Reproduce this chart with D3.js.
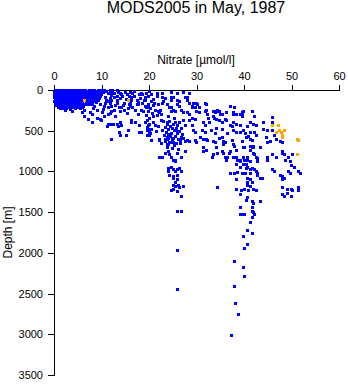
<!DOCTYPE html>
<html>
<head>
<meta charset="utf-8">
<script src="https://cdn.jsdelivr.net/npm/d3@7"></script>
<style>
  body { margin: 0; background: #fff; }
  svg text { font-family: "Liberation Sans", Arial, Helvetica, sans-serif; fill: #000; }
</style>
</head>
<body>
<svg id="chart" width="348" height="384"></svg>
<script>
// Axis ticks
const nitrateTicks = [0, 10, 20, 30, 40, 50, 60];
const depthTicks = [0, 500, 1000, 1500, 2000, 2500, 3000, 3500];

// Bottle samples: [nitrate (µmol/l), depth (m)]
const surfaceSamples = [
  [0.3,8],[0.9,10],[1.6,6],[2.2,9],[2.9,7],[3.5,11],[4.1,8],[4.8,5],[5.4,10],[6.1,7],[6.7,9],[7.4,6],[8.0,11],[8.6,8],[9.3,5],[9.9,9],[10.6,7],[11.8,12],
  [0.6,19],[1.3,17],[1.9,21],[2.6,18],[3.2,16],[3.8,20],[4.4,19],[5.1,17],[5.7,22],[6.4,18],[7.0,16],[7.7,21],[8.3,19],[9.0,17],[9.6,22],[10.3,18],[11.1,20],
  [0.1,30],[0.7,33],[1.3,28],[2.0,31],[2.6,35],[3.3,29],[3.9,32],[4.5,27],[5.2,34],[5.8,30],[6.5,26],[7.1,33],[7.8,31],[8.4,28],[9.0,35],[9.7,30],[10.4,33],
  [0.3,44],[1.0,42],[1.6,46],[2.3,41],[2.9,45],[3.6,43],[4.2,47],[4.8,42],[5.5,44],[6.1,46],[6.8,41],[7.4,45],[8.1,43],[8.7,47],[9.3,42],[10.0,45],
  [0.4,55],[1.0,58],[1.7,52],[2.3,57],[3.0,54],[3.6,60],[4.3,53],[4.9,56],[5.5,59],[6.2,51],[6.8,57],[7.5,55],[8.1,60],[8.8,53],[9.4,58],[10.1,55],
  [0.1,68],[0.7,70],[1.4,66],[2.0,69],[2.7,71],[3.3,67],[3.9,70],[4.6,65],[5.2,69],[5.9,72],[6.5,67],[7.1,70],[7.8,66],[8.4,71],[9.1,68],[9.7,70],
  [0.2,80],[0.8,83],[1.5,78],[2.1,85],[2.8,81],[3.4,77],[4.0,84],[4.7,80],[5.3,86],[6.0,79],[6.6,82],[7.2,77],[7.9,85],[8.5,81],[9.2,79],[9.8,84],
  [0.2,93],[0.8,95],[1.4,91],[2.1,94],[2.7,96],[3.4,92],[4.0,95],[4.7,90],[5.3,94],[6.0,97],[6.6,92],[7.3,95],[7.9,91],[8.6,96],[9.2,93],
  [0.5,105],[1.1,108],[1.8,102],[2.4,107],[3.1,104],[3.7,110],[4.4,103],[5.0,106],[5.7,109],[6.3,101],[7.0,107],[7.6,104],[8.3,110],[8.9,103],[9.6,106],
  [0.6,118],[1.2,120],[1.9,116],[2.5,119],[3.2,121],[3.8,117],[4.5,120],[5.1,115],[5.8,119],[6.7,122],[7.7,117],[8.9,120],
  [0.3,130],[0.9,133],[1.6,128],[2.2,135],[2.9,131],[3.5,127],[4.2,134],[4.8,130],[5.5,136],[6.1,129],[7.3,132],[8.0,127],[8.6,135],[9.3,130],
  [0.1,143],[0.8,145],[1.4,141],[2.1,144],[2.7,146],[3.4,142],[4.0,145],[4.7,140],[5.3,144],[6.0,147],[7.0,142],[8.3,145],
  [0.6,155],[1.2,158],[1.9,152],[2.5,157],[3.2,154],[3.8,160],[4.5,153],[5.1,156],[5.8,159],[6.8,152],[7.7,157],[8.9,154],
  [0.3,168],[0.9,170],[1.6,166],[2.2,169],[2.9,171],[3.5,167],[4.2,170],[4.8,165],[5.5,169],[6.4,172],
  [0.4,180],[1.0,183],[1.7,178],[2.3,185],[3.0,181],[3.6,177],[4.3,184],[5.0,180],[5.9,186],[7.1,179],[8.2,182],
  [0.6,193],[1.3,195],[1.9,191],[2.6,194],[3.2,196],[3.9,192],[4.6,195],[5.4,190],
  [0.9,205],[1.6,208],[2.2,202],[2.9,207],[3.5,204],[4.2,210],[4.9,203],[6.3,206],
  [1.0,218],[1.7,220],[2.3,216],[3.0,219],[3.7,221],[4.3,217],[5.1,220],
  [1.3,230],[2.0,233],[2.7,228],[3.4,235],[4.6,231],[5.5,227],
  [2.4,255],[3.8,258]
];

const upperSamples = [
  [12.4,12],[13.3,12],[13.3,74],[14.3,61],[15.4,61],[16.4,98],[17.5,123],[18.1,61],[19.2,98],
  [12.2,135],[13.3,160],[14.9,160],[16.0,160],[17.5,184],[18.7,160],
  [11.4,221],[12.2,197],[12.8,246],[14.3,221],[14.9,246],[16.0,197],[16.6,221],[17.7,184],[18.5,246],[19.2,197],[19.8,221],
  [7.6,282],[8.0,307],[6.1,282],[6.5,320],[7.2,368],[9.1,344],[9.7,368],[10.3,282],[10.7,320],[11.4,307],[12.2,258],
  [8.2,405],[10.1,380],[11.4,418],[12.0,418],[12.6,418],[13.3,418],[13.9,405],[13.5,454],[14.3,442],
  [16.4,380],[17.1,405],[18.1,430],[19.2,405],[19.8,430],
  [15.6,503],[18.5,528],[13.9,553],[19.6,553],[19.6,503],[12.2,614],
  [5.9,221],[6.5,246],[7.6,184],[8.6,197],[9.7,184],
  [13.7,516],[15.3,553],[18.1,528],[16.4,405],[19.8,491],[20.2,516],[22.3,614],[23.8,614],[24.4,650],[11.2,454],
  [12.2,25],[12.8,37],[13.9,49],[16.6,49],[18.5,37],[18.7,61],[21.7,49],[22.9,37],[24.8,25],[25.9,37],
  [10.8,90],[11.5,140],[10.9,170],[11.9,100],[14.1,110],[15.0,35],[17.0,20],[20.0,15],[27.3,30],[28.5,40],
  [23.5,110],[15.8,85],[19.9,80],[21.0,120],[14.6,195],[10.5,240],[11.9,285],[13.0,330],[15.5,290],[17.8,300],[9.2,250],[8.4,230],
  [10.9,15],[11.5,45],[12.0,70],[12.7,95],[13.6,30],[14.5,85],[15.2,120],[16.1,25],[16.9,75],[17.8,150],[18.3,100],[19.0,130],[19.5,40],
  [11.0,125],[12.9,185],[13.8,215],[15.7,225],[17.2,255],[18.9,270],[10.6,200],[14.0,265],[16.3,135],[11.8,165],[13.4,135],[15.9,175]
];

const midSamples = [
  [19.3,130],[20.5,140],[21.2,160],[19.8,175],[20.9,195],[19.5,215],[20.4,230],[21.4,250],[19.9,270],[20.8,290],[19.4,310],[21.0,330],[20.2,350],
  [19.6,375],[20.9,395],[20.0,420],[21.3,440],[19.7,465],[20.6,490],[21.5,515],[20.3,540],[22.0,180],[22.4,250],[21.8,310],[22.6,380],[22.0,450],
  [23.1,392],[24.3,383],[25.6,398],[26.4,404],[23.9,418],[25.1,428],[26.0,436],[24.6,452],[23.5,463],[25.8,470],[26.9,476],[24.1,487],[25.3,499],
  [26.5,506],[23.7,522],[24.7,534],[26.1,531],[27.0,546],[23.2,558],[24.5,569],[25.5,574],[26.8,581],[24.1,597],[25.0,609],[26.3,604],[23.5,630],
  [24.9,644],[25.8,651],[24.2,666],[25.4,679],[26.7,662],[23.9,405],[24.9,476],[25.9,512],[24.2,545],[25.2,590],[26.6,625],[23.9,580],[22.8,500],[27.3,600],
  [22.9,160],[23.8,184],[24.4,221],[25.1,246],[21.9,258],[22.7,307],[22.3,282],[25.9,184],[26.5,197],[26.9,246],[27.2,282],[24.8,98],[24.8,123],
  [26.1,123],[28.0,98],[28.2,123],[20.6,61],[21.7,74],[25.1,86],[27.6,86],[27.2,380],[27.6,430],[28.6,380],[25.5,270],[24.8,209],[24.8,258],
  [28.0,282],[22.9,86],[23.0,147],[26.5,147],[24.0,330],[25.3,350],
  [28.6,160],[29.1,197],[29.3,160],[30.1,160],[30.7,221],[31.8,160],[32.2,172],[30.3,184],[29.1,209],[29.7,221],[30.1,270],[30.7,282],[32.2,246],
  [31.8,258],[32.4,307],[33.5,258],[33.9,282],[34.3,270],[34.9,258],[35.4,295],[36.4,282],[34.5,246],[37.1,197],[38.1,221],[37.7,282],[38.5,295],
  [39.2,295],[39.6,282],[37.7,307],[39.6,320],[28.6,307],[29.1,344],[29.7,368],[29.1,430],[31.4,405],[31.8,430],[32.8,405],[34.3,368],[34.9,380],
  [35.4,393],[36.0,368],[36.4,380],[34.3,467],[35.4,491],[37.1,442],[37.5,454],[37.7,405],[38.5,418],[39.2,430],[29.3,503],[29.7,528],[31.2,503],
  [31.8,528],[37.7,503],[38.5,516],[39.2,528],[39.8,503],
  [28.0,626],[28.6,638],[29.7,626],[30.1,650],[31.4,614],[32.2,614],[32.4,626],[33.5,638],[33.9,650],[35.4,589],[35.6,638],[35.6,675],[36.0,650],
  [37.5,626],[37.7,675],[38.1,688],[23.8,675],[25.1,650],[27.6,638],[19.8,503],[20.2,553],[20.6,626],[22.3,626],[22.7,663],[23.4,614],
  [33.5,320],[33.7,344],[35.0,307],[33.2,500],[34.0,540],[34.8,600],[30.8,580],[36.5,540],[32.5,345],
  [39.8,270],[41.7,270],[42.3,320],[39.6,307],[41.3,393],[41.9,418],[40.8,454],[42.7,430],[44.2,405],[45.9,332],[45.9,405],[44.0,491],[45.0,503],
  [45.9,503],[41.3,528],[42.3,516],[42.7,553],[40.6,589],[41.3,614],[41.7,626],[39.6,638],[44.8,589],[45.0,650],[46.5,553],[46.9,614],[47.6,638],
  [48.0,650],[41.3,688],[41.9,688],[40.2,700],[43.4,700],[45.5,638],[40.4,540],[41.0,565]
];

const deepSamples = [
  [38.5,737],[39.8,712],[41.3,737],[41.9,712],[41.9,774],[42.7,823],[42.9,845],[37.0,774],[37.7,823],[36.6,823],[35.4,761],[35.6,774],[33.3,823],
  [33.5,798],[34.3,700],[34.5,774],[36.0,823],[36.4,860],[37.1,761],[38.5,823],[38.7,860],[39.2,884],[39.8,823],[40.2,860],[40.8,835],[41.7,700],
  [42.3,798],[42.9,884],[40.8,860],[41.3,884],[40.6,921],[40.8,946],[39.2,860],[45.0,860],[31.4,761],[31.4,712],[32.2,737],[27.6,761],
  [38.5,921],[39.2,946],[39.8,921],[40.6,958],[41.3,982],[41.7,958],
  [37.1,1020],[37.9,1025],[38.7,1018],[39.6,1022],[40.4,1020],[41.3,1024],[42.7,1007],[42.9,1030],
  [38.5,1105],[40.8,1081],[41.3,1105],[41.7,1142],[43.8,1081],[42.3,982],[42.9,1044],[43.4,1081],[40.8,1130],[40.8,1167],[41.3,1191],
  [38.5,1228],[39.4,1232],[40.2,1225],[41.0,1230],[41.9,1226],[42.7,1232],[34.5,1203],
  [39.2,1289],[40.8,1326],[40.6,1351],[41.7,1375],[41.9,1388],[43.4,1375],[39.2,1437],[41.7,1437],[39.2,1535],[39.8,1535],[40.2,1530],
  [41.7,1498],[41.9,1510],[42.3,1523],[41.7,1560],[41.3,1633],[40.8,1731],[41.7,1768],[39.8,1805],[40.8,1903],[40.2,1952],[37.9,2112],[39.8,2174],
  [40.2,2296],[38.1,2419],[38.3,2628],[38.9,2751],[37.3,3021],
  [22.3,823],[22.9,835],[24.0,761],[24.4,798],[24.8,835],[25.5,860],[26.1,774],[26.9,823],[23.4,774],[25.1,860],[25.5,884],[24.0,958],[24.8,946],
  [25.1,982],[25.5,1007],[25.9,982],[26.5,958],[26.9,1007],[24.0,1007],[24.4,1044],[25.1,1068],[25.9,1044],[25.1,1081],[25.9,1105],[25.5,1130],
  [25.1,1167],[25.5,1191],[26.3,1167],[26.5,1203],[27.2,1191],[25.1,1228],[25.9,1252],[24.8,1240],[26.9,1314],[25.9,1486],[26.9,1498],[25.9,1965],
  [26.1,2456],[23.8,700],[25.0,720],[26.3,730],
  [45.0,823],[46.1,798],[46.9,835],[48.2,774],[48.6,798],[49.3,823],[50.3,798],[49.7,884],[50.1,933],[50.7,946],[48.0,761],[48.8,860],[46.5,1007],
  [47.6,1044],[48.2,1068],[48.0,1105],[48.6,1081],[49.3,1007],[49.7,1020],[51.4,1007],[51.8,1020],[45.9,982],[48.0,1203],[49.1,1216],[50.1,1228],
  [51.4,1203],[48.2,1289],[48.6,1314],[50.1,1302],[49.1,1277],[50.3,1240],[51.4,1240]
];

// Highlighted samples drawn in orange
const orangeSamples = [
  [6.5,123],[15.6,123],[46.1,430],[47.2,430],[47.4,503],[47.8,516],[46.9,528],[48.6,503],[48.2,553],[48.0,589],[51.2,602],[51.4,618],[51.2,798]
];

const blueSamples = surfaceSamples.concat(upperSamples, midSamples, deepSamples);

const svg = d3.select("#chart");
const font = '"Liberation Sans", Arial, Helvetica, sans-serif';

const x = d3.scaleLinear().domain([0, 60]).range([54, 339]);
const y = d3.scaleLinear().domain([0, 3500]).range([90, 375]);

// Title
svg.append("text")
  .attr("x", 196).attr("y", 13)
  .attr("text-anchor", "middle")
  .style("font-size", "16px")
  .text("MODS2005 in May, 1987");

// Nitrate axis along the top
const xAxis = svg.append("g")
  .attr("transform", "translate(0,90)")
  .call(d3.axisTop(x).tickValues(nitrateTicks).tickFormat(d3.format("d"))
    .tickSize(5).tickSizeOuter(0).tickPadding(5));

// Depth axis on the left, increasing downward
const yAxis = svg.append("g")
  .attr("transform", "translate(54,0)")
  .call(d3.axisLeft(y).tickValues(depthTicks).tickFormat(d3.format("d"))
    .tickSize(6).tickSizeOuter(0).tickPadding(5));

[xAxis, yAxis].forEach(g => {
  g.attr("font-family", font).attr("font-size", 11);
  g.selectAll("path, line").attr("stroke", "#000").attr("stroke-width", 1).attr("shape-rendering", "crispEdges");
  g.selectAll("text").attr("fill", "#000");
});

svg.append("text")
  .attr("x", 196).attr("y", 64)
  .attr("text-anchor", "middle")
  .style("font-size", "12px")
  .text("Nitrate [\u00b5mol/l]");

svg.append("text")
  .attr("transform", "translate(12,232.5) rotate(-90)")
  .attr("text-anchor", "middle")
  .style("font-size", "12px")
  .text("Depth [m]");

// Sample markers
const size = 3;
function drawSamples(data, color) {
  svg.append("g")
    .selectAll("rect")
    .data(data)
    .join("rect")
    .attr("x", d => Math.round(x(d[0]) - size / 2))
    .attr("y", d => Math.round(y(d[1]) - size / 2))
    .attr("width", size)
    .attr("height", size)
    .attr("fill", color)
    .attr("shape-rendering", "crispEdges");
}
drawSamples(blueSamples, "#0000ff");
drawSamples(orangeSamples, "#ffa500");
</script>
</body>
</html>
